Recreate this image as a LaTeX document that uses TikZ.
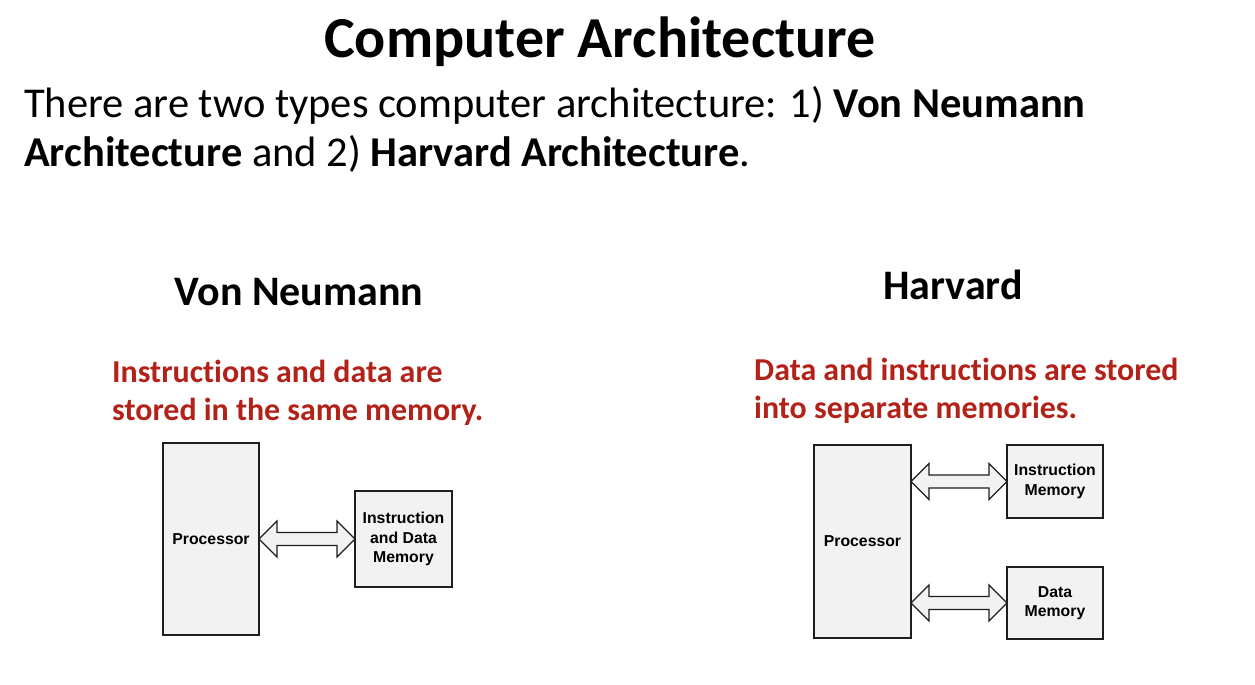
\documentclass[tikz,border=0pt]{standalone}
\usepackage{fontspec}
\setmainfont[Ligatures=NoCommon]{Carlito}
\newfontfamily\boxfont{Liberation Sans}
\usetikzlibrary{calc}
\definecolor{boxgray}{RGB}{242,242,242}
\definecolor{notered}{RGB}{178,34,24}
\definecolor{edge}{RGB}{30,30,30}

% horizontal two-headed bus arrow between two anchors (same height)
\newcommand\busarrow[2]{%
  \draw[bus] let \p1=(#1), \p2=(#2) in
    (\x1,\y1) -- (\x1+18pt,\y1+18pt) -- (\x1+18pt,\y1+6.5pt)
    -- (\x2-18pt,\y1+6.5pt) -- (\x2-18pt,\y1+18pt) -- (\x2,\y1)
    -- (\x2-18pt,\y1-18pt) -- (\x2-18pt,\y1-6.5pt)
    -- (\x1+18pt,\y1-6.5pt) -- (\x1+18pt,\y1-18pt) -- cycle;}

\tikzset{
  block/.style={draw=edge, line width=1.3pt, fill=boxgray, inner sep=0pt,
    outer sep=0pt, align=center,
    font=\boxfont\bfseries\fontsize{15.8}{19.5}\selectfont},
  bus/.style={draw=edge, line width=1.1pt, fill=boxgray, line join=miter},
  heading/.style={font=\bfseries\fontsize{42}{50}\selectfont, anchor=base},
  note/.style={font=\bfseries\fontsize{31.9}{38}\selectfont, text=notered,
    anchor=base west, align=left, inner sep=0pt},
}

\begin{document}
\begin{tikzpicture}[x=1pt, y=-1pt]
\useasboundingbox (0,0) rectangle (1255,685);

% titles and intro text (multi-line nodes sit on their last baseline)
\node[font=\bfseries\fontsize{58}{62}\selectfont, anchor=base] (title)
  at (600,58) {Computer Architecture};
\node[font=\fontsize{42.5}{49}\selectfont, anchor=base west, align=left,
  inner sep=0pt] (intro) at (24,166)
  {There are two types computer architecture: 1) \textbf{Von Neumann}\\
   \textbf{Architecture} and 2) \textbf{Harvard Architecture}.};

% Von Neumann side
\node[heading] (vnhead) at (299,305) {Von Neumann};
\node[note] (vnnote) at (112,420)
  {Instructions and data are\\stored in the same memory.};
\node[block, minimum width=96, minimum height=192] (vp) at (211,539) {Processor};
\node[block, minimum width=97, minimum height=96] (vm) at (403.5,539)
  {Instruction\\and Data\\Memory};
\busarrow{vp.east}{vm.west}

% Harvard side
\node[heading] (hvhead) at (953,299) {Harvard};
\node[note] (hvnote) at (754,418)
  {Data and instructions are stored\\into separate memories.};
\node[block, minimum width=97, minimum height=193] (hp) at (862.5,541.5) {Processor};
\node[block, minimum width=96, minimum height=73] (hi) at (1055,481.5)
  {Instruction\\Memory};
\node[block, minimum width=96, minimum height=72] (hd) at (1055,603)
  {Data\\Memory};
\busarrow{hp.east |- hi.west}{hi.west}
\busarrow{hp.east |- hd.west}{hd.west}
\end{tikzpicture}
\end{document}
